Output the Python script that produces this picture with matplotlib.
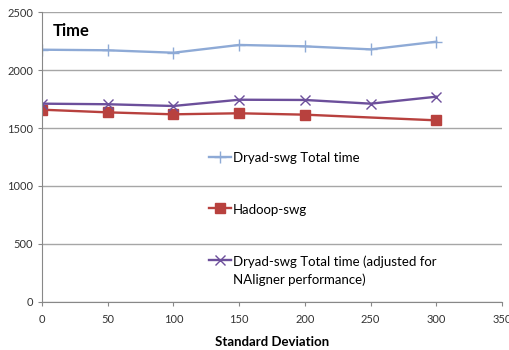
import matplotlib
matplotlib.use("Agg")
import matplotlib.pyplot as plt

plt.rcParams['font.family'] = ['Lato', 'DejaVu Sans']

# standard deviation values (x)
std_dev = [0, 50, 100, 150, 200, 250, 300]
dryad_total = [2177, 2172, 2151, 2218, 2206, 2180, 2246]
dryad_adjusted = [1711, 1706, 1691, 1745, 1743, 1711, 1771]
# hadoop has no point at 250
hadoop_x = [0, 50, 100, 150, 200, 300]
hadoop = [1659, 1636, 1619, 1628, 1616, 1567]

labels = ['Dryad-swg Total time', 'Hadoop-swg',
          'Dryad-swg Total time (adjusted for\nNAligner performance)']

fig = plt.figure(figsize=(5.09, 3.5), dpi=100)
ax = fig.add_axes([42 / 509, 1 - 301.8 / 350, 460 / 509, 289.5 / 350])

l1, = ax.plot(std_dev, dryad_total, color='#8eaad6', lw=1.7, marker='+', ms=8, mew=1)
l2, = ax.plot(hadoop_x, hadoop, color='#b8413e', lw=1.7, marker='s', ms=6.5)
l3, = ax.plot(std_dev, dryad_adjusted, color='#6c4f9b', lw=1.7, marker='x', ms=6.5, mew=1)

ax.set_xlim(0, 350)
ax.set_ylim(0, 2500)
ax.set_xticks(range(0, 351, 50))
ax.set_yticks(range(0, 2501, 500))
ax.tick_params(labelsize=8, colors='#333333', length=3, color='#888888')
ax.tick_params(axis='x', direction='out', pad=6)
ax.yaxis.grid(True, color='#a6a6a6', lw=1)
ax.set_axisbelow(True)
for s in ['top', 'right']:
    ax.spines[s].set_visible(False)
for s in ['left', 'bottom']:
    ax.spines[s].set_color('#888888')

ax.set_xlabel('Standard Deviation', fontsize=9.5, fontweight='bold', labelpad=8)
ax.text(0.024, 0.935, 'Time', transform=ax.transAxes, fontsize=12, fontweight='bold',
        va='center')

leg = ax.legend([l1, l2, l3], labels, loc='upper left', bbox_to_anchor=(0.352, 0.535),
                frameon=False, fontsize=9.5, handlelength=1.65, handletextpad=0.15,
                labelspacing=3.0, borderaxespad=0)
for t in leg.get_texts():
    t.set_linespacing(1.5)
# put the handle next to the first line of a two-line label
for col in leg._legend_handle_box.get_children():
    for row in col.get_children():
        row.align = 'top'

fig.savefig('out.png', dpi=100)
